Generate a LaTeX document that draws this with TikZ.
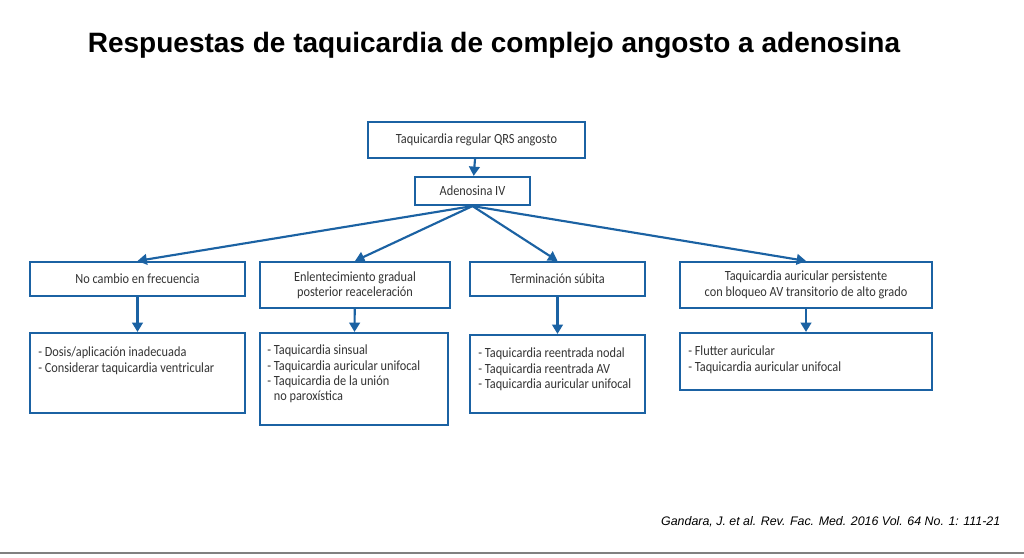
\documentclass[tikz,border=0pt]{standalone}
\usepackage{fontspec}
\setmainfont{Carlito}
\newfontfamily\titlefont{Liberation Sans}
\newfontfamily\bodyfont[FakeStretch=0.88]{Carlito}
\usetikzlibrary{arrows.meta}
\definecolor{bx}{HTML}{1B62A3}
\definecolor{tx}{HTML}{333333}
\tikzset{
 bxs/.style={draw=bx,line width=1.6pt,inner sep=0pt,text=tx,font=\bodyfont\fontsize{10.5}{11.5}\selectfont},
 lst/.style={text=tx,font=\bodyfont\fontsize{10.5}{11.5}\selectfont,align=left,anchor=north west,inner sep=0pt},
 arr/.style={draw=bx,line width=1.6pt,-{Triangle[length=7pt,width=8pt]}},
}
\begin{document}
\begin{tikzpicture}[x=0.75pt,y=-0.75pt]
\useasboundingbox (0,0) rectangle (1024,557);
\fill[white] (0,0) rectangle (1024,557);
\node[font=\titlefont\bfseries\fontsize{21}{23}\selectfont] (title) at (494,45) {Respuestas de taquicardia de complejo angosto a adenosina};
\node[bxs,minimum width=162.75pt,minimum height=27pt] (b1) at (476.5,140) {Taquicardia regular QRS angosto};
\node[bxs,minimum width=86.25pt,minimum height=21pt] (b2) at (472.5,191) {Adenosina IV};
\node[bxs,minimum width=161.25pt,minimum height=25.5pt] (a1) at (137.5,279) {No cambio en frecuencia};
\node[bxs,minimum width=142.5pt,minimum height=34.5pt,align=center] (c1) at (355,285) {Enlentecimiento gradual\\posterior reaceleración};
\node[bxs,minimum width=131.25pt,minimum height=25.5pt] (d1) at (557.5,279) {Terminación súbita};
\node[bxs,minimum width=189pt,minimum height=34.5pt,align=center] (e1) at (806,285) {Taquicardia auricular persistente\\con bloqueo AV transitorio de alto grado};
\node[bxs,minimum width=161.25pt,minimum height=60pt] (a2) at (137.5,373) {};
\node[bxs,minimum width=141pt,minimum height=69pt] (c2) at (354,379) {};
\node[bxs,minimum width=131.25pt,minimum height=58.5pt] (d2) at (557.5,374) {};
\node[bxs,minimum width=189pt,minimum height=42.75pt] (e2) at (806,361.5) {};
\node[lst] (a2t) at (38,347) {- Dosis/aplicación inadecuada\\- Considerar taquicardia ventricular};
\node[lst] (c2t) at (267,345) {- Taquicardia sinsual\\- Taquicardia auricular unifocal\\- Taquicardia de la unión\\\phantom{- }no paroxística};
\node[lst] (d2t) at (478,348) {- Taquicardia reentrada nodal\\- Taquicardia reentrada AV\\- Taquicardia auricular unifocal};
\node[lst] (e2t) at (688,346) {- Flutter auricular\\- Taquicardia auricular unifocal};
\draw[arr] (b1) -- (b2);
\coordinate (o) at (b2.south);
\draw[arr] (o) -- (a1.north);
\draw[arr] (o) -- (c1.north);
\draw[arr] (o) -- (d1.north);
\draw[arr] (o) -- (e1.north);
\draw[arr] (a1) -- (a2);
\draw[arr] (c1) -- (c2);
\draw[arr] (d1) -- (d2);
\draw[arr] (e1) -- (e2);
\node[font=\titlefont\itshape\fontsize{9.3}{11}\selectfont,anchor=east] (cite) at (1005,522) {Gandara, J. et al. Rev. Fac. Med. 2016 Vol. 64 No. 1: 111-21};
\draw[gray,line width=1pt] (0,553) -- (1024,553);
\end{tikzpicture}
\end{document}
